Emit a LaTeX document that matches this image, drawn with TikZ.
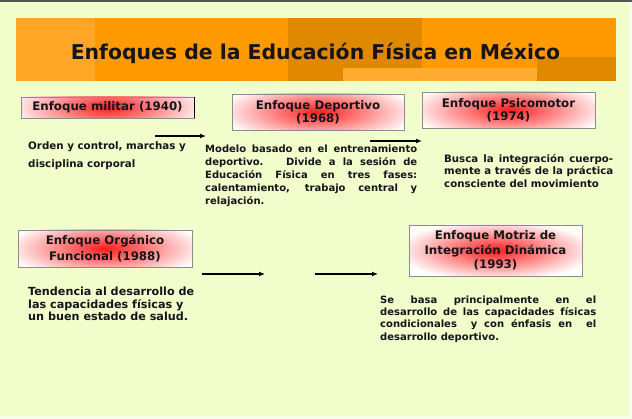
\documentclass[tikz,border=0pt]{standalone}
\usepackage{fontspec}
\setmainfont{DejaVu Sans}
\usetikzlibrary{arrows.meta}
\definecolor{bg}{RGB}{242,253,204}
\definecolor{topline}{RGB}{85,87,80}
\definecolor{orA}{RGB}{255,153,0}
\definecolor{orL}{RGB}{255,166,38}
\definecolor{orD}{RGB}{224,136,0}
\definecolor{orS}{RGB}{255,172,48}
\definecolor{glow}{RGB}{255,30,30}
\definecolor{boxline}{RGB}{140,140,140}
\definecolor{ink}{RGB}{20,20,25}
\begin{document}
\begin{tikzpicture}[x=1pt,y=-1pt,
  hbox/.style={draw=boxline, line width=0.9pt, fill=white, inner sep=0pt,
    align=center, text=ink, font=\bfseries\fontsize{11.8}{13}\selectfont,
    path picture={\shade[inner color=glow, outer color=white]
      (path picture bounding box.center) ellipse [x radius=100pt, y radius=30pt];}},
  body/.style={inner sep=0pt, anchor=west, align=left, text=ink},
  arr/.style={line width=1.5pt, -{Latex[length=6pt,width=5pt]}}]
% background
\fill[bg] (0,0) rectangle (632,419);
\fill[topline] (0,0) rectangle (632,2.5);
\fill[white!55!bg] (629,2.5) rectangle (632,419);
\fill[white!55!bg] (0,416) rectangle (632,419);
% banner
\fill[orA] (16,18) rectangle (616,81);
\fill[orL] (16,18) rectangle (95,81);
\fill[orD] (288,18) rectangle (422,68);
\fill[orD] (288,68) rectangle (343,81);
\fill[orS] (343,68) rectangle (537,81);
\fill[orD] (537,57) rectangle (616,81);
\node[text=ink, font=\bfseries\fontsize{20.4}{24}\selectfont] (title) at (315.5,53) {Enfoques de la Educación Física en México};
% boxes
\node[hbox, minimum width=173pt, minimum height=21pt] (b1) at (107.5,107.5) {Enfoque militar (1940)};
\draw[line width=1.6pt, black] (b1.north east) -- (b1.south east);
\node[hbox, minimum width=172pt, minimum height=36pt] (b2) at (318,112) {Enfoque Deportivo\\(1968)};
\node[hbox, minimum width=173pt, minimum height=36pt] (b3) at (508.5,110) {Enfoque Psicomotor\\(1974)};
\node[hbox, minimum width=174pt, minimum height=37pt, font=\bfseries\fontsize{11.8}{16}\selectfont] (b4) at (105,248.5) {Enfoque Orgánico\\Funcional (1988)};
\node[hbox, minimum width=173pt, minimum height=51pt, font=\bfseries\fontsize{11.8}{14.5}\selectfont] (b5) at (495.5,250.5) {Enfoque Motriz de\\Integración Dinámica\\(1993)};
% texts
\node[body, font=\bfseries\fontsize{10.3}{18}\selectfont] (t1) at (28,156) {Orden y control, marchas y\\disciplina corporal};
\node[body, font=\bfseries\fontsize{10}{13}\selectfont] (t2) at (205,176) {\makebox[212pt][s]{Modelo basado en el entrenamiento}\\\makebox[212pt][s]{deportivo. \ Divide a la sesión de}\\\makebox[212pt][s]{Educación Física en tres fases:}\\\makebox[212pt][s]{calentamiento, trabajo central y}\\relajación.};
\node[body, font=\bfseries\fontsize{10.2}{12.5}\selectfont] (t3) at (444,170.5) {\makebox[169pt][s]{Busca la integración cuerpo-}\\\makebox[169pt][s]{mente a través de la práctica}\\consciente del movimiento};
\node[body, font=\bfseries\fontsize{11.2}{12.3}\selectfont] (t4) at (28,304) {Tendencia al desarrollo de\\las capacidades físicas y\\un buen estado de salud.};
\node[body, font=\bfseries\fontsize{10}{12.3}\selectfont] (t5) at (380,319) {\makebox[216pt][s]{Se basa principalmente en el}\\\makebox[216pt][s]{desarrollo de las capacidades físicas}\\\makebox[216pt][s]{condicionales \ y con énfasis en \ el}\\desarrollo deportivo.};
% arrows
\coordinate (a1s) at (155,136); \coordinate (a1e) at (206,136);
\coordinate (a2s) at (370,141); \coordinate (a2e) at (422,141);
\coordinate (a3s) at (202,274); \coordinate (a3e) at (265,274);
\coordinate (a4s) at (315,274); \coordinate (a4e) at (378,274);
\draw[arr] (a1s) -- (a1e);
\draw[arr] (a2s) -- (a2e);
\draw[arr] (a3s) -- (a3e);
\draw[arr] (a4s) -- (a4e);
\end{tikzpicture}
\end{document}
